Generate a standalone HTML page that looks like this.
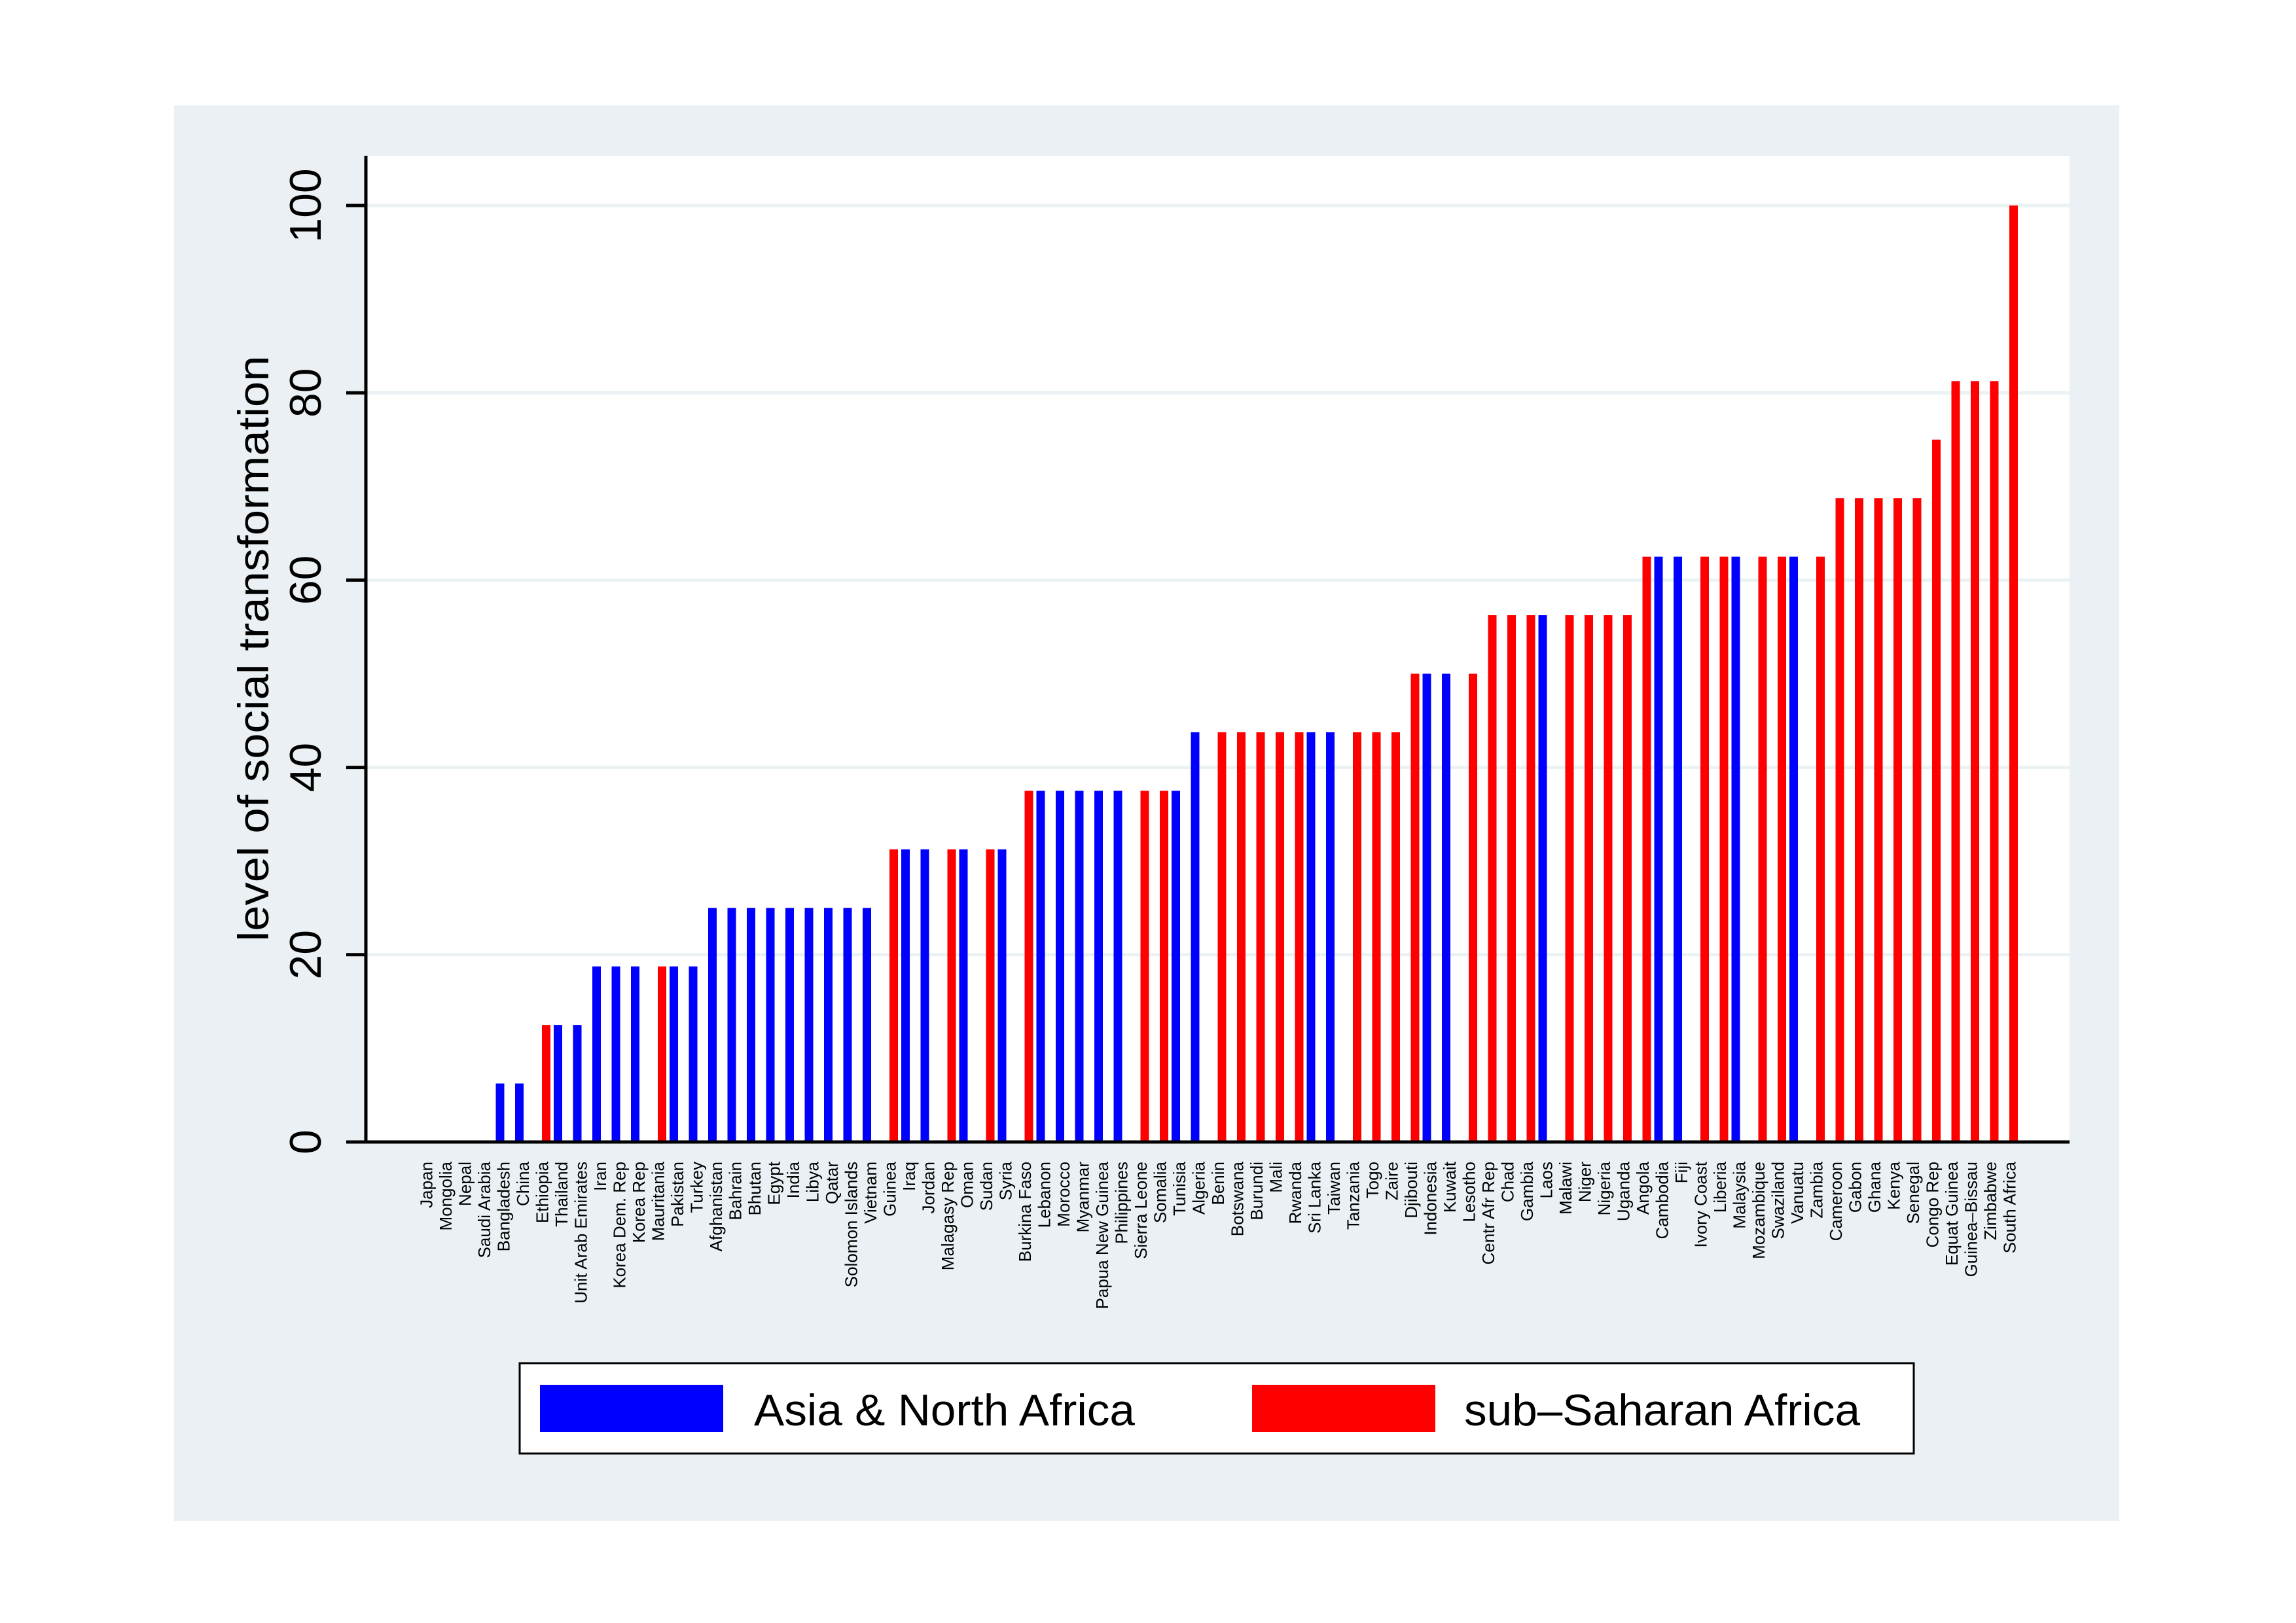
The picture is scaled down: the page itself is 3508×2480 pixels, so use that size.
<!DOCTYPE html>
<html><head><meta charset="utf-8"><style>
html,body{margin:0;padding:0;background:#fff;}
svg{display:block;font-family:"Liberation Sans",sans-serif;}
</style></head><body>
<svg id="chart" width="3508" height="2480" viewBox="0 0 3508 2480" xmlns="http://www.w3.org/2000/svg">
<rect x="0" y="0" width="3508" height="2480" fill="#ffffff"/>
<rect x="266" y="161" width="2972" height="2163" fill="#eaf0f3"/>
<rect x="559" y="238" width="2603" height="1507" fill="#ffffff"/>
<g id="grid"></g>
<g id="bars"></g>
<g id="xlabels"></g>
<g id="yaxis"></g>
<line x1="559" y1="238" x2="559" y2="1747" stroke="#000" stroke-width="5"/>
<line x1="557" y1="1745" x2="3162" y2="1745" stroke="#000" stroke-width="5"/>
<text transform="translate(410,991) rotate(-90)" text-anchor="middle" font-size="66" textLength="895" lengthAdjust="spacingAndGlyphs">level of social transformation</text>
<g>
<rect x="794" y="2083" width="2130" height="138" fill="#ffffff" stroke="#000" stroke-width="3"/>
<rect x="825" y="2116" width="280" height="72" fill="#0000ff"/>
<text x="1152" y="2178" font-size="68" textLength="582" lengthAdjust="spacingAndGlyphs">Asia &amp; North Africa</text>
<rect x="1913" y="2116" width="280" height="72" fill="#ff0000"/>
<text x="2237" y="2178" font-size="68" textLength="605" lengthAdjust="spacingAndGlyphs">sub–Saharan Africa</text>
</g>
</svg>
<script>
const countries = ["Japan","Mongolia","Nepal","Saudi Arabia","Bangladesh","China","Ethiopia","Thailand","Unit Arab Emirates","Iran","Korea Dem. Rep","Korea Rep","Mauritania","Pakistan","Turkey","Afghanistan","Bahrain","Bhutan","Egypt","India","Libya","Qatar","Solomon Islands","Vietnam","Guinea","Iraq","Jordan","Malagasy Rep","Oman","Sudan","Syria","Burkina Faso","Lebanon","Morocco","Myanmar","Papua New Guinea","Philippines","Sierra Leone","Somalia","Tunisia","Algeria","Benin","Botswana","Burundi","Mali","Rwanda","Sri Lanka","Taiwan","Tanzania","Togo","Zaire","Djibouti","Indonesia","Kuwait","Lesotho","Centr Afr Rep","Chad","Gambia","Laos","Malawi","Niger","Nigeria","Uganda","Angola","Cambodia","Fiji","Ivory Coast","Liberia","Malaysia","Mozambique","Swaziland","Vanuatu","Zambia","Cameroon","Gabon","Ghana","Kenya","Senegal","Congo Rep","Equat Guinea","Guinea–Bissau","Zimbabwe","South Africa"];
const values = [0,0,0,0,6.25,6.25,12.5,12.5,12.5,18.75,18.75,18.75,18.75,18.75,18.75,25,25,25,25,25,25,25,25,25,31.25,31.25,31.25,31.25,31.25,31.25,31.25,37.5,37.5,37.5,37.5,37.5,37.5,37.5,37.5,37.5,43.75,43.75,43.75,43.75,43.75,43.75,43.75,43.75,43.75,43.75,43.75,50,50,50,50,56.25,56.25,56.25,56.25,56.25,56.25,56.25,56.25,62.5,62.5,62.5,62.5,62.5,62.5,62.5,62.5,62.5,62.5,68.75,68.75,68.75,68.75,68.75,75,81.25,81.25,81.25,100];
const regions = ["A","A","A","A","A","A","S","A","A","A","A","A","S","A","A","A","A","A","A","A","A","A","A","A","S","A","A","S","A","S","A","S","A","A","A","A","A","S","S","A","A","S","S","S","S","S","A","A","S","S","S","S","A","A","S","S","S","S","A","S","S","S","S","S","A","A","S","S","A","S","S","A","S","S","S","S","S","S","S","S","S","S","S"];
const yTicks = [0,20,40,60,80,100];

const NS = "http://www.w3.org/2000/svg";
const Y0 = 1745, YPER = 14.31;
function yScale(v){ return Y0 - v*YPER; }
function slotLeft(i){ return 3058.5 - 29.5*(countries.length-1-i); }
function mk(tag, attrs, parent){ const e=document.createElementNS(NS,tag); for(const k in attrs) e.setAttribute(k,attrs[k]); parent.appendChild(e); return e; }

const grid=document.getElementById('grid'), yaxis=document.getElementById('yaxis');
yTicks.forEach(t=>{
  const y=yScale(t);
  if(t>0){
    const g=mk('line',{x1:561,x2:3162,y1:y,y2:y,stroke:'#eaf2f3','stroke-width':5},grid);
    
    
  }
  const tk=mk('line',{x1:529,x2:559,y1:y,y2:y,stroke:'#000','stroke-width':5},yaxis);
  
  
  const lb=mk('text',{transform:'translate(490,'+y+') rotate(-90)','text-anchor':'middle','font-size':68},yaxis);
  lb.textContent=t;
  
  
});

const bars=document.getElementById('bars'), xl=document.getElementById('xlabels');
countries.forEach((c,i)=>{
  const left=slotLeft(i);
  const v=values[i];
  if(v>0){
    const isS=regions[i]==='S';
    const x=isS?left+11.5:left;
    const r=mk('rect',{x:x,y:yScale(v),width:13,height:Y0-yScale(v),fill:isS?'#ff0000':'#0000ff'},bars);
    
    
  }
  const cx=left+12;
  const t=mk('text',{transform:'translate('+cx+',1775) rotate(-90)','text-anchor':'end','dominant-baseline':'central','font-size':26},xl);
  t.textContent=c;
  
  
});
</script>
</body></html>
